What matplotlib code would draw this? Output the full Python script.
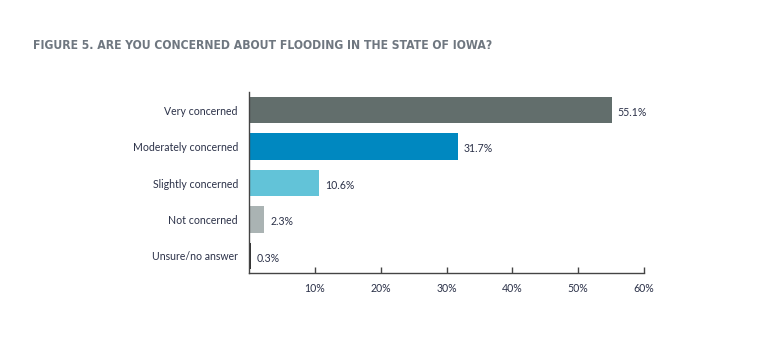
import matplotlib.pyplot as plt

categories = ["Very concerned", "Moderately concerned", "Slightly concerned",
              "Not concerned", "Unsure/no answer"]
values = [55.1, 31.7, 10.6, 2.3, 0.3]
bar_colors = ["#626e6c", "#0088c0", "#62c3d8", "#aab3b3", "#333333"]
xticks = [10, 20, 30, 40, 50, 60]

TEXT = "#2b3148"
FS = 7.6

fig = plt.figure(figsize=(7.83, 3.44), dpi=100)
ax = fig.add_axes([0.318, 0.206, 0.5045, 0.527])

y = list(range(len(categories)))
ax.barh(y, values, height=0.72, color=bar_colors)

# value labels at bar ends
for yi, v in zip(y, values):
    ax.text(v + 0.9, yi + 0.06, f"{v}%", va="center", ha="left",
            fontsize=FS, color=TEXT, family="Lato")

ax.set_xlim(0, 60)
ax.set_ylim(4.47, -0.5)
ax.set_yticks(y)
ax.set_yticklabels(categories, fontsize=FS, color=TEXT, family="Lato")
ax.set_xticks(xticks)
ax.set_xticklabels([f"{t}%" for t in xticks], fontsize=FS, color=TEXT, family="Lato")

ax.tick_params(axis="y", length=0, pad=8)
ax.tick_params(axis="x", direction="in", length=4, width=1, color="#444444", pad=7)

for s in ["top", "right"]:
    ax.spines[s].set_visible(False)
ax.spines["left"].set_color("#444444")
ax.spines["bottom"].set_color("#444444")
ax.spines["left"].set_linewidth(1)
ax.spines["bottom"].set_linewidth(1)

fig.text(0.042, 0.868, "FIGURE 5. ARE YOU CONCERNED ABOUT FLOODING IN THE STATE OF IOWA?",
         fontsize=8.7, fontweight="bold", fontstretch="condensed",
         family="DejaVu Sans", color="#6f7780", va="center")

fig.savefig("out.png", dpi=100)
